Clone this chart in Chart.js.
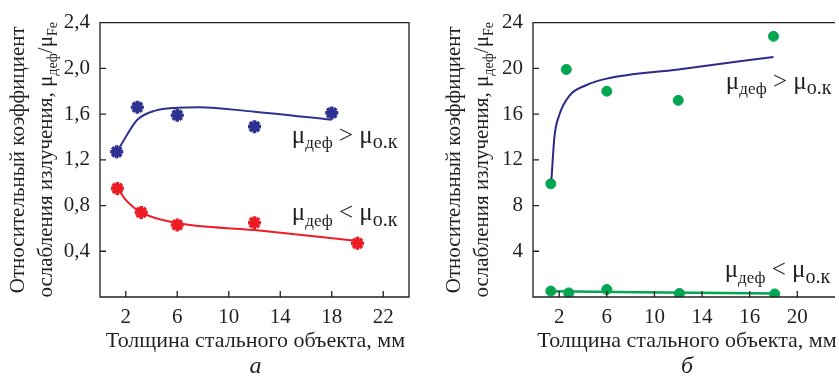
<!DOCTYPE html>
<html>
<head>
<meta charset="utf-8">
<script src="https://cdn.jsdelivr.net/npm/chart.js@4.4.0/dist/chart.umd.min.js"></script>
<style>
  body { margin: 0; background: #fff; }
  #wrap { position: relative; width: 839px; height: 379px; }
  canvas { position: absolute; top: 0; }
</style>
</head>
<body>
<div id="wrap">
  <canvas id="chartA" width="420" height="379" style="left:0"></canvas>
  <canvas id="chartB" width="419" height="379" style="left:420px"></canvas>
</div>
<script>
// =====================
// DATA (а) – asterisks
// =====================
const thickA_gt = [1.3, 2.9, 6, 12, 18];
const ratioA_gt = [1.27, 1.66, 1.59, 1.49, 1.61];
const thickA_lt = [1.35, 3.2, 6, 12, 20];
const ratioA_lt = [0.95, 0.74, 0.63, 0.65, 0.47];
// fitted curves
const fitA_gt_x = [1.3, 2.0, 2.9, 4.3, 6.0, 7.7, 12, 18];
const fitA_gt_y = [1.265, 1.40, 1.55, 1.63, 1.655, 1.66, 1.62, 1.55];
const fitA_lt_x = [1.35, 2.0, 3.2, 6.0, 12, 20];
const fitA_lt_y = [0.955, 0.85, 0.74, 0.647, 0.585, 0.49];

const xTicksA = [2, 6, 10, 14, 18, 22];
const xLabelsA = ["2", "6", "10", "14", "18", "22"];
const yTicksA = [0.4, 0.8, 1.2, 1.6, 2.0, 2.4];

// =====================
// DATA (б) – dots
// =====================
const thickB_gt = [1.3, 2.6, 6, 12, 20];
const ratioB_gt = [9.9, 19.9, 18.0, 17.2, 22.8];
const thickB_lt = [1.3, 2.8, 6, 12.1, 20.1];
const ratioB_lt = [0.52, 0.36, 0.66, 0.31, 0.27];
const fitB_gt_x = [1.35, 1.6, 2.0, 2.85, 4.2, 6, 12, 20];
const fitB_gt_y = [10.3, 14.0, 15.9, 17.6, 18.5, 19.1, 19.9, 21.0];
const fitB_lt_x = [1.3, 20.1];
const fitB_lt_y = [0.5, 0.3];

const xTicksB = [2, 6, 10, 14, 18, 22];
const xLabelsB = ["2", "6", "10", "14", "16", "20"];
const yTicksB = [4, 8, 12, 16, 20, 24];

const INK = "#231f20";
const SERIF = "'Liberation Serif', serif";
const BLUE = "#2e3192";
const RED = "#ed1c24";
const GREEN = "#00a651";

const pts = (xs, ys) => xs.map((x, i) => ({ x: x, y: ys[i] }));

// =====================
// RICH TEXT (subscripts)
// =====================
// part = [text, kind]  kind 0 = normal, 1 = small subscript, 2 = larger subscript
function drawRich(ctx, parts, x, y, size, align) {
  const sz = k => k === 1 ? Math.round(size * 0.68) : k === 2 ? Math.round(size * 0.8) : size;
  const w = parts.map(([t, k]) => {
    ctx.font = sz(k) + "px " + SERIF;
    return ctx.measureText(t).width;
  });
  const total = w.reduce((a, b) => a + b, 0);
  let cx = align === "center" ? x - total / 2 : x;
  parts.forEach(([t, k], i) => {
    ctx.font = sz(k) + "px " + SERIF;
    ctx.fillText(t, cx, k ? y + size * 0.22 : y);
    cx += w[i];
  });
}

// =====================
// FRAME, TICKS, TITLES
// =====================
const decor = {
  id: "decor",
  afterDraw(chart, args, o) {
    const { ctx, chartArea: a, scales: { x, y } } = chart;
    ctx.save();
    ctx.strokeStyle = INK;
    ctx.lineWidth = 1.3;
    ctx.beginPath();
    if (o.rightBorder) {
      ctx.rect(a.left, a.top, a.right - a.left, a.bottom - a.top);
    } else {
      ctx.moveTo(a.right + 2, a.top);
      ctx.lineTo(a.left, a.top);
      ctx.lineTo(a.left, a.bottom);
      ctx.lineTo(a.right + 2, a.bottom);
    }
    o.xTicks.forEach(v => {
      const px = x.getPixelForValue(v);
      ctx.moveTo(px, a.bottom);
      ctx.lineTo(px, a.bottom - 6);
    });
    o.yTicks.forEach(v => {
      const py = y.getPixelForValue(v);
      ctx.moveTo(a.left, py);
      ctx.lineTo(a.left + 6, py);
    });
    ctx.stroke();

    ctx.fillStyle = INK;
    ctx.textBaseline = "alphabetic";
    // notes on the plot
    o.notes.forEach(n => {
      drawRich(ctx, n.parts, x.getPixelForValue(n.x), y.getPixelForValue(n.y), 25, "left");
    });
    // x title
    const cx = (a.left + a.right) / 2 + o.titleShift;
    drawRich(ctx, [["Толщина стального объекта, мм", 0]], cx, 347, 22, "center");
    // panel letter
    ctx.font = "italic 24px " + SERIF;
    ctx.textAlign = "center";
    ctx.fillText(o.letter, cx, 373);
    ctx.textAlign = "left";
    // y title (rotated, two lines)
    const cy = (a.top + a.bottom) / 2;
    ctx.translate(o.yTitleX, cy);
    ctx.rotate(-Math.PI / 2);
    drawRich(ctx, [["Относительный коэффициент", 0]], 0, 0, 21, "center");
    drawRich(ctx, [["ослабления излучения, μ", 0], ["деф", 1], ["/μ", 0], ["Fe", 1]], 0, 28, 21, "center");
    ctx.restore();
  }
};

const noteGt = [["μ", 0], ["деф", 1], [" > ", 0], ["μ", 0], ["о.к", 2]];
const noteLt = [["μ", 0], ["деф", 1], [" < ", 0], ["μ", 0], ["о.к", 2]];

function makeChart(id, cfg) {
  return new Chart(document.getElementById(id), {
    type: "scatter",
    data: { datasets: cfg.datasets },
    options: {
      responsive: false,
      animation: false,
      layout: { padding: { top: 15, right: cfg.padRight, left: 0, bottom: 0 } },
      plugins: {
        legend: { display: false },
        tooltip: { enabled: false },
        decor: cfg.decor
      },
      scales: {
        x: {
          type: "linear",
          min: cfg.xMin, max: cfg.xMax,
          grid: { display: false, drawTicks: false },
          border: { display: false },
          afterBuildTicks: s => { s.ticks = cfg.xTicks.map(v => ({ value: v })); },
          afterFit: s => { s.height = 82; },
          ticks: {
            color: INK, padding: 8,
            font: { family: SERIF, size: 21 },
            callback: (v, i) => cfg.xLabels[i]
          }
        },
        y: {
          type: "linear",
          min: 0, max: cfg.yMax,
          grid: { display: false, drawTicks: false },
          border: { display: false },
          afterBuildTicks: s => { s.ticks = cfg.yTicks.map(v => ({ value: v })); },
          afterFit: s => { s.width = cfg.yWidth; },
          ticks: {
            color: INK, padding: 10,
            font: { family: SERIF, size: 21 },
            callback: cfg.yFormat
          }
        }
      }
    },
    plugins: [decor]
  });
}

const curve = (xs, ys, color, w) => ({
  data: pts(xs, ys), showLine: true, borderColor: color, borderWidth: w,
  pointRadius: 0, cubicInterpolationMode: "monotone", fill: false
});
const marks = (xs, ys, color, style, r) => ({
  data: pts(xs, ys), showLine: false, pointStyle: style, pointRadius: r,
  borderColor: color, backgroundColor: color, borderWidth: style === "star" ? 3.6 : 1
});

function buildCharts() {
  // ===== (а) =====
  makeChart("chartA", {
    xMin: 0, xMax: 24, yMax: 2.4, padRight: 11, yWidth: 100,
    xTicks: xTicksA, xLabels: xLabelsA, yTicks: yTicksA,
    yFormat: v => v.toFixed(1).replace(".", ","),
    datasets: [
      curve(fitA_gt_x, fitA_gt_y, BLUE, 2),
      curve(fitA_lt_x, fitA_lt_y, RED, 2),
      marks(thickA_gt, ratioA_gt, BLUE, "star", 6.5),
      marks(thickA_lt, ratioA_lt, RED, "star", 6.5)
    ],
    decor: {
      rightBorder: true, xTicks: xTicksA, yTicks: yTicksA,
      letter: "а", titleShift: 1, yTitleX: 24,
      notes: [
        { x: 14.9, y: 1.35, parts: noteGt },
        { x: 14.9, y: 0.67, parts: noteLt }
      ]
    }
  });

  // ===== (б) =====
  makeChart("chartB", {
    xMin: -0.2, xMax: 25, yMax: 24, padRight: 0, yWidth: 113,
    xTicks: xTicksB, xLabels: xLabelsB, yTicks: yTicksB,
    yFormat: v => String(v),
    datasets: [
      curve(fitB_gt_x, fitB_gt_y, "#2b2a8c", 2),
      curve(fitB_lt_x, fitB_lt_y, GREEN, 2.5),
      marks(thickB_gt, ratioB_gt, GREEN, "circle", 5),
      marks(thickB_lt, ratioB_lt, GREEN, "circle", 5)
    ],
    decor: {
      rightBorder: false, xTicks: xTicksB, yTicks: yTicksB,
      letter: "б", titleShift: 4, yTitleX: 40,
      notes: [
        { x: 16.0, y: 18.2, parts: noteGt },
        { x: 15.9, y: 1.73, parts: noteLt }
      ]
    }
  });
}

// wait for the local serif font, otherwise canvas falls back to sans
Promise.all([
  document.fonts.load("21px 'Liberation Serif'", "Толщина 0123"),
  document.fonts.load("italic 24px 'Liberation Serif'", "аб")
]).then(buildCharts, buildCharts);
</script>
</body>
</html>
